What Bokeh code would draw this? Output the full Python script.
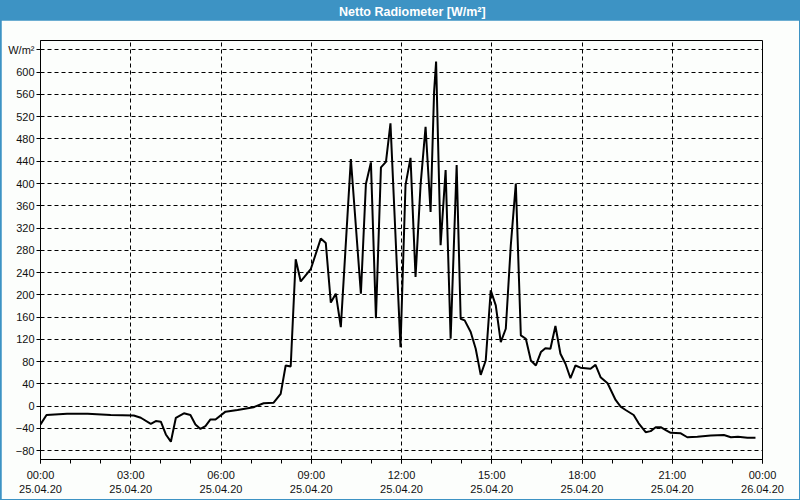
from bokeh.plotting import figure
from bokeh.layouts import column
from bokeh.models import FixedTicker, Range1d, Label
from bokeh.embed import file_html
from bokeh.resources import INLINE

# time of day in minutes (25.04.20) and net radiation in W/m²
minutes = [0, 12, 53, 94, 140, 186, 200, 220, 230, 240, 250, 260, 270, 286, 299,
           309, 319, 329, 339, 349, 369, 393, 425, 445, 465, 479, 489, 499, 509, 519,
           539, 559, 569, 579, 589, 599, 619, 639, 649, 659, 669, 679, 689, 698, 718,
           728, 738, 748, 758, 768, 778, 785, 789, 798, 808, 818, 830, 838, 846, 858,
           868, 878, 888, 898, 908, 918, 928, 938, 948, 958, 968, 978, 988, 998, 1007,
           1017, 1027, 1037, 1047, 1057, 1067, 1077, 1097, 1107, 1117, 1131, 1147, 1157, 1167, 1183,
           1193, 1207, 1217, 1227, 1237, 1247, 1257, 1277, 1290, 1310, 1337, 1363, 1377, 1391, 1410,
           1426]
values = [-33, -16, -14, -14, -16, -17, -21, -32, -27, -28, -51, -64, -21, -13, -16,
          -33, -41, -36, -24, -24, -10, -7, -2, 5, 6, 22, 73, 71, 264, 224,
          246, 301, 293, 186, 202, 142, 444, 202, 399, 438, 158, 429, 439, 508, 106,
          397, 446, 232, 397, 502, 349, 565, 619, 289, 424, 121, 433, 157, 154, 133,
          103, 56, 82, 208, 181, 115, 139, 289, 400, 127, 121, 82, 73, 97, 104,
          103, 144, 94, 76, 50, 73, 69, 67, 74, 52, 41, 11, -1, -7, -16,
          -31, -47, -45, -38, -38, -43, -48, -49, -56, -55, -53, -52, -56, -55, -57,
          -57]

x_tick_hours = [0, 3, 6, 9, 12, 15, 18, 21, 24]
x_tick_labels = ["00:00\n25.04.20", "03:00\n25.04.20", "06:00\n25.04.20",
                 "09:00\n25.04.20", "12:00\n25.04.20", "15:00\n25.04.20",
                 "18:00\n25.04.20", "21:00\n25.04.20", "00:00\n26.04.20"]
y_ticks = [-80, -40, 0, 40, 80, 120, 160, 200, 240, 280, 320, 360, 400, 440,
           480, 520, 560, 600, 640]
y_unit = "W/m²"
title_text = "Netto Radiometer [W/m²]"

hours = [m / 60 for m in minutes]

BLUE = "#3d93c4"
BG = "#fcfefc"
FONT = "Liberation Sans"

head = figure(width=798, height=19, x_range=Range1d(0, 1), y_range=Range1d(0, 1),
              toolbar_location=None, output_backend="svg", min_border=0,
              x_axis_location=None, y_axis_location=None)
for g in head.grid:
    g.visible = False
head.outline_line_color = None
head.background_fill_color = None
head.border_fill_color = None
head.styles = {"background-color": BLUE}
head.add_layout(Label(x=0.515, y=0.47, text=title_text, text_align="center",
                      text_baseline="middle", text_color="white",
                      text_font_style="bold", text_font_size="12.5px",
                      text_font=FONT))

p = figure(width=798, height=479, toolbar_location=None, output_backend="svg",
           x_range=Range1d(0, 24), y_range=Range1d(-96, 657),
           min_border_left=39, min_border_right=37, min_border_top=20,
           min_border_bottom=40)
p.background_fill_color = BG
p.border_fill_color = BG
p.outline_line_color = "black"
p.outline_line_width = 1

p.xaxis.ticker = FixedTicker(ticks=x_tick_hours, minor_ticks=list(range(25)))
p.xaxis.major_label_overrides = dict(zip(x_tick_hours, x_tick_labels))
p.yaxis.ticker = FixedTicker(ticks=y_ticks, minor_ticks=[])
p.yaxis.major_label_overrides = {640: y_unit}

for ax in (p.xaxis[0], p.yaxis[0]):
    ax.axis_line_color = "black"
    ax.major_tick_in = 0
    ax.major_tick_out = 4
    ax.minor_tick_in = 0
    ax.minor_tick_out = 4
    ax.major_tick_line_color = "black"
    ax.minor_tick_line_color = "black"
    ax.major_label_text_font = FONT
    ax.major_label_text_font_size = "11px"
    ax.major_label_text_color = "#111111"
p.yaxis.major_label_standoff = 2
p.xaxis.major_label_standoff = 5

for g in (p.xgrid[0], p.ygrid[0]):
    g.grid_line_color = "black"
    g.grid_line_dash = "4 3"
    g.grid_line_width = 1

p.line(hours, values, line_color="black", line_width=2)

layout = column(head, p, styles={"border": f"1px solid {BLUE}",
                                 "background-color": BLUE})

open("out.html", "w").write(file_html(layout, INLINE))
